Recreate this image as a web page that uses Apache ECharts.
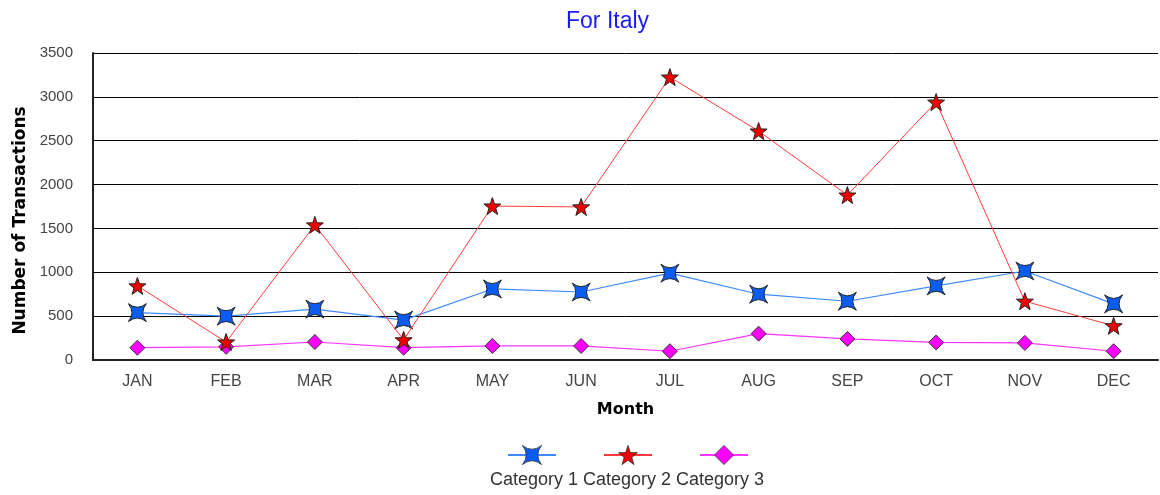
<!DOCTYPE html>
<html><head><meta charset="utf-8">
<script src="https://cdn.jsdelivr.net/npm/echarts@6/dist/echarts.min.js"></script>
<style>html,body{margin:0;padding:0;background:#fff}#c{width:1160px;height:495px}</style>
</head><body><div id="c"></div>
<script>
const months = ['JAN','FEB','MAR','APR','MAY','JUN','JUL','AUG','SEP','OCT','NOV','DEC'];
const cat1 = [540, 500, 580, 455, 810, 775, 990, 750, 670, 845, 1015, 640];
const cat2 = [845, 205, 1540, 230, 1755, 1745, 3225, 2610, 1880, 2940, 670, 390];
const cat3 = [140, 150, 205, 140, 160, 160, 100, 300, 240, 200, 195, 100];
const seriesNames = ['Category 1', 'Category 2', 'Category 3'];

const star4 = 'path://M-10,-10 Q0,-2 10,-10 Q2,0 10,10 Q0,2 -10,10 Q-2,0 -10,-10 Z';
const star5 = 'path://M0,-10 L2.35,-3.24 L9.51,-3.09 L3.8,1.24 L5.88,8.09 L0,4 L-5.88,8.09 L-3.8,1.24 L-9.51,-3.09 L-2.35,-3.24 Z';

const chart = echarts.init(document.getElementById('c'));
const font = 'Liberation Sans, Arial, sans-serif';
const wide = 'DejaVu Sans, sans-serif';
function mkLegend(name, left) {
  return { data: [name], left: left, top: 438, itemWidth: 48, itemHeight: 24,
    itemStyle: { borderWidth: 0.8, borderColor: '#333' },
    formatter: () => '', selectedMode: false, textStyle: { fontSize: 1 } };
}
chart.setOption({
  animation: false,
  title: { text: 'For Italy', left: 561, top: 5,
    textStyle: { color: '#1a1aff', fontSize: 23, fontWeight: 'normal', fontFamily: font } },
  legend: [mkLegend('Category 1', 502), mkLegend('Category 2', 598), mkLegend('Category 3', 694)],
  graphic: [{ type: 'text', x: 627, y: 480,
    style: { text: 'Category 1 Category 2 Category 3', fill: '#333', fontSize: 18, fontFamily: font,
      align: 'center', verticalAlign: 'middle' } }],
  grid: { left: 93, right: 2, top: 53, bottom: 135 },
  xAxis: { type: 'category', data: months, boundaryGap: true,
    name: 'Month', nameLocation: 'middle', nameGap: 42,
    nameTextStyle: { fontWeight: 'bold', fontSize: 16, color: '#000', fontFamily: wide },
    axisLine: { lineStyle: { color: '#222', width: 2 } },
    axisTick: { show: false },
    axisLabel: { color: '#444', fontSize: 16, fontFamily: font, margin: 14 } },
  yAxis: { type: 'value', min: 0, max: 3500, interval: 500,
    name: 'Number of Transactions', nameLocation: 'middle', nameGap: 63,
    nameTextStyle: { fontWeight: 'bold', fontSize: 17, color: '#000', fontFamily: wide, padding: [0, 28, 0, 0] },
    axisLine: { show: true, lineStyle: { color: '#222', width: 2 } },
    axisTick: { show: false },
    axisLabel: { color: '#444', fontSize: 15, fontFamily: font, margin: 20, formatter: v => String(v) },
    splitLine: { lineStyle: { color: '#000', width: 1 } } },
  series: [
    { name: seriesNames[0], type: 'line', data: cat1, symbol: star4, symbolSize: 18,
      lineStyle: { color: '#3d8bff', width: 1.2 },
      itemStyle: { color: '#0a5cf5', borderColor: '#222', borderWidth: 1 }, z: 3 },
    { name: seriesNames[1], type: 'line', data: cat2, symbol: star5, symbolSize: 17,
      lineStyle: { color: '#ff3b3b', width: 1 },
      itemStyle: { color: '#ee0000', borderColor: '#222', borderWidth: 1 }, z: 4 },
    { name: seriesNames[2], type: 'line', data: cat3, symbol: 'diamond', symbolSize: 15,
      lineStyle: { color: '#ff33ff', width: 1.2 },
      itemStyle: { color: '#ff00ff', borderColor: '#333', borderWidth: 1 }, z: 2 }
  ]
});
</script></body></html>
